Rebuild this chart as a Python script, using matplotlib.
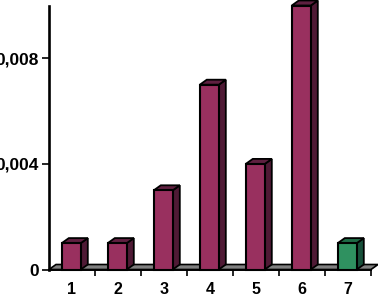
import matplotlib
matplotlib.use('Agg')
import matplotlib.pyplot as plt
from matplotlib.patches import Polygon

plt.rcParams['font.family'] = ['Liberation Sans', 'DejaVu Sans']

# Values
categories = [1, 2, 3, 4, 5, 6, 7]
values = [0.001, 0.001, 0.003, 0.007, 0.004, 0.01, 0.001]
bar_colors = ['#99305f', '#99305f', '#99305f', '#99305f', '#99305f', '#99305f', '#2f9160']
side_colors = ['#4f1a35', '#4f1a35', '#4f1a35', '#4f1a35', '#4f1a35', '#4f1a35', '#17503a']
top_colors = ['#5f2040', '#5f2040', '#5f2040', '#5f2040', '#5f2040', '#5f2040', '#1f6a45']
y_ticks = [0, 0.004, 0.008]
y_labels = ['0', '0,004', '0,008']

W, H = 378, 296
fig = plt.figure(figsize=(W / 100, H / 100), dpi=100)
# axes box in pixels: x 49-371, y 5.5-269.5
ax = fig.add_axes([49 / W, 1 - 269.5 / H, 322 / W, 264 / H])
ax.set_xlim(0.5, 7.5)
ax.set_ylim(0, 0.01)

# 3d offset of the bars, in data units
dx = 7 / 46
dy = 5 / 26.4 * 0.001
half = 9.5 / 46
shift = -0.7 / 46

# grey floor
ax.add_patch(Polygon([(0.5, 0), (0.5 + dx, dy), (7.5 + dx, dy), (7.5, 0)],
                     fc='#808080', ec='black', lw=1.2, clip_on=False, zorder=1))

for c, v, fc, sc, tc in zip(categories, values, bar_colors, side_colors, top_colors):
    l, r = c - half + shift, c + half + shift
    ax.add_patch(Polygon([(r, 0), (r + dx, dy), (r + dx, v + dy), (r, v)],
                         fc=sc, ec='black', lw=1.3, clip_on=False, zorder=2))
    ax.add_patch(Polygon([(l, v), (l + dx, v + dy), (r + dx, v + dy), (r, v)],
                         fc=tc, ec='black', lw=1.3, clip_on=False, zorder=2))
    ax.add_patch(Polygon([(l, 0), (l, v), (r, v), (r, 0)],
                         fc=fc, ec='black', lw=1.5, clip_on=False, zorder=3))

for s in ['top', 'right']:
    ax.spines[s].set_visible(False)
ax.spines['left'].set_linewidth(1.9)
ax.spines['bottom'].set_linewidth(1.4)
ax.spines['left'].set_zorder(5)
ax.spines['bottom'].set_zorder(5)

ax.set_xticks([c + 0.5 for c in categories])
ax.set_xticklabels([])
ax.tick_params(axis='x', length=4, width=1.2, direction='out')
for c in categories:
    ax.text(c, -0.00075, str(c), ha='center', va='center', fontsize=11.5, fontweight='bold')

ax.set_yticks(y_ticks)
ax.set_yticklabels(y_labels, fontsize=12.5, fontweight='bold')
ax.tick_params(axis='y', length=5, width=1.2, pad=2.5)

fig.savefig('out.png', dpi=100)
